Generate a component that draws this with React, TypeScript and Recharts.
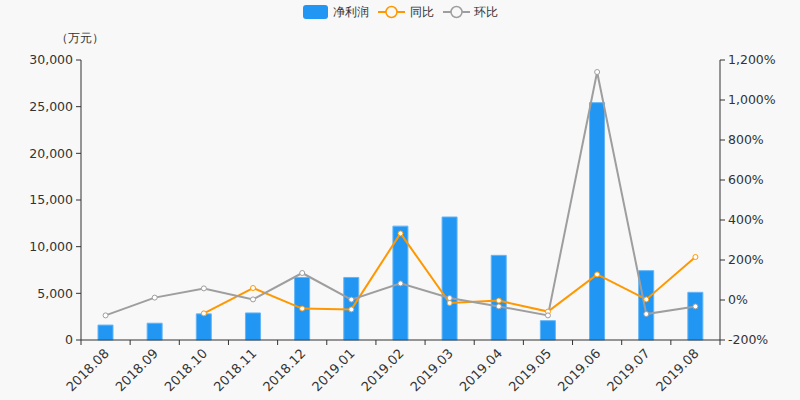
import React from 'react';
import { ComposedChart, Bar, Line, XAxis, YAxis } from 'recharts';

const categories = ['2018.08','2018.09','2018.10','2018.11','2018.12','2019.01','2019.02','2019.03','2019.04','2019.05','2019.06','2019.07','2019.08'];
const netProfit = [1600, 1800, 2800, 2900, 6700, 6700, 12200, 13180, 9070, 2070, 25430, 7430, 5110];
const yoy: (number | null)[] = [null, null, -67, 60, -43, -47, 333, -15, -3, -58, 128, 3, 215];
const mom = [-77, 12, 58, 3, 135, 2, 83, 10, -32, -77, 1140, -70, -32];
const leftTicks = [0, 5000, 10000, 15000, 20000, 25000, 30000];
const rightTicks = [-200, 0, 200, 400, 600, 800, 1000, 1200];

const data = categories.map((c, i) => ({ name: c, profit: netProfit[i], yoy: yoy[i], mom: mom[i] }));

const FONT = '"DejaVu Sans", sans-serif';
const TEXT = '#333';
const BLUE = '#2196F3';
const ORANGE = '#FF9800';
const GRAY = '#9E9E9E';
const BAND = 639 / 13;

const fmt = (v: number) => v.toLocaleString('en-US');

const XTick = (props: any) => {
  const { x, y, payload, index } = props;
  const tx = x + 1;
  const ty = y + 11;
  return (
    <g>
      <line x1={x - BAND / 2} y1={y} x2={x - BAND / 2} y2={y + 5} stroke={TEXT} />
      {index === categories.length - 1 && (
        <line x1={x + BAND / 2} y1={y} x2={x + BAND / 2} y2={y + 5} stroke={TEXT} />
      )}
      <text x={tx} y={ty} transform={`rotate(-45, ${tx}, ${ty})`} textAnchor="end"
        fontSize={13} fill={TEXT} fontFamily={FONT} dy="0.35em">{payload.value}</text>
    </g>
  );
};

const Legend = () => (
  <div style={{ position: 'absolute', left: 0, top: 0, width: 800, height: 24 }}>
    <svg width={800} height={24}>
      <rect x={303} y={5} width={25} height={14} rx={3} fill={BLUE} />
      <text x={333} y={12} dy="0.35em" fontSize={12} fill={TEXT} fontFamily={FONT}>净利润</text>
      <line x1={378} y1={12} x2={405} y2={12} stroke={ORANGE} strokeWidth={2} />
      <circle cx={391.5} cy={12} r={5.5} fill="#f8f8f8" stroke={ORANGE} strokeWidth={1.5} />
      <text x={410} y={12} dy="0.35em" fontSize={12} fill={TEXT} fontFamily={FONT}>同比</text>
      <line x1={443} y1={12} x2={470} y2={12} stroke={GRAY} strokeWidth={2} />
      <circle cx={456.5} cy={12} r={5.5} fill="#f8f8f8" stroke={GRAY} strokeWidth={1.5} />
      <text x={474} y={12} dy="0.35em" fontSize={12} fill={TEXT} fontFamily={FONT}>环比</text>
    </svg>
  </div>
);

export default function App() {
  return (
    <div style={{ position: 'absolute', left: 0, top: 0, width: 800, height: 400, background: '#f8f8f8' }}>
      <ComposedChart width={800} height={400} data={data} margin={{ top: 60, right: 0, bottom: 0, left: 0 }}>
        <XAxis dataKey="name" height={60} stroke={TEXT} tickLine={false} tickSize={0} tickMargin={0}
          tick={<XTick />} interval={0} />
        <YAxis yAxisId="left" width={81} domain={[0, 30000]} ticks={leftTicks} tickFormatter={fmt}
          stroke={TEXT} tickSize={5} tickMargin={3} tick={{ fill: TEXT, fontSize: 12.5, fontFamily: FONT }}
          label={() => (
            <text x={80} y={38} textAnchor="middle" dy="0.35em" fontSize={12} fill={TEXT} fontFamily={FONT}>（万元）</text>
          )} />
        <YAxis yAxisId="right" orientation="right" width={80} domain={[-200, 1200]} ticks={rightTicks}
          tickFormatter={(v: number) => fmt(v) + '%'} stroke={TEXT} tickSize={5} tickMargin={3}
          tick={{ fill: TEXT, fontSize: 12.5, fontFamily: FONT }} />
        <Bar yAxisId="left" dataKey="profit" fill={BLUE} stroke="#64B5F6" strokeWidth={1} barSize={15} isAnimationActive={false} />
        <Line yAxisId="right" dataKey="yoy" stroke={ORANGE} strokeWidth={2}
          dot={{ r: 2.5, fill: '#fff', stroke: ORANGE, strokeWidth: 1 }} isAnimationActive={false} />
        <Line yAxisId="right" dataKey="mom" stroke={GRAY} strokeWidth={2}
          dot={{ r: 2.5, fill: '#fff', stroke: GRAY, strokeWidth: 1 }} isAnimationActive={false} />
      </ComposedChart>
      <Legend />
    </div>
  );
}
